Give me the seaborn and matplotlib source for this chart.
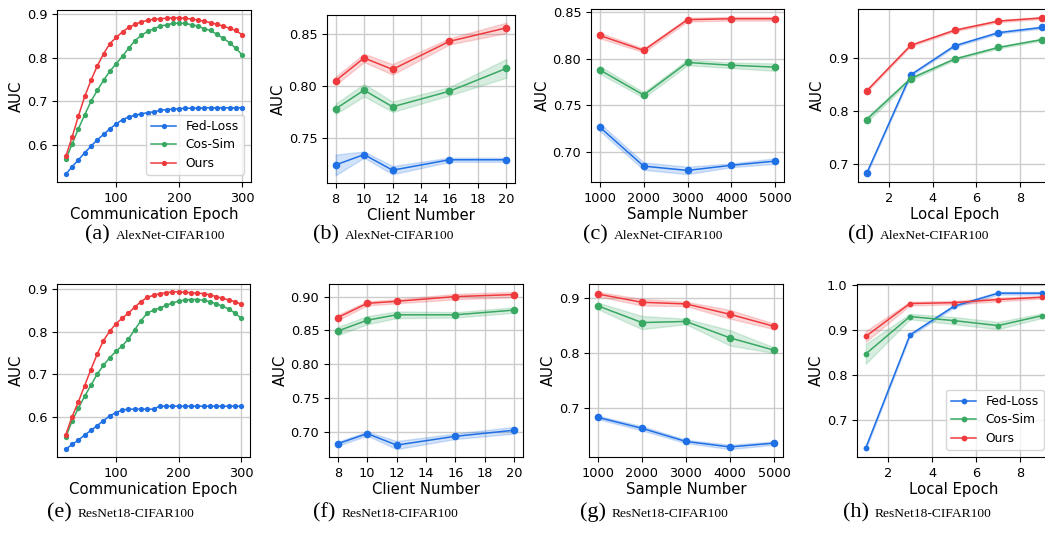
import numpy as np
import pandas as pd
import matplotlib
matplotlib.use('Agg')
import matplotlib.pyplot as plt
import seaborn as sns
from matplotlib.ticker import MultipleLocator, FormatStrFormatter

METHODS = ['Fed-Loss', 'Cos-Sim', 'Ours']
COLORS = {'Fed-Loss': '#1f6fe5', 'Cos-Sim': '#38a862', 'Ours': '#ef3a3d'}

# communication epoch panels (a) and (e)
epochs = [20, 30, 40, 50, 60, 70, 80, 90, 100, 110, 120, 130, 140, 150, 160,
          170, 180, 190, 200, 210, 220, 230, 240, 250, 260, 270, 280, 290, 300]
a_fed = [0.533, 0.550, 0.566, 0.582, 0.597, 0.612, 0.624, 0.637, 0.648, 0.658, 0.664, 0.668, 0.671, 0.674, 0.676,
         0.679, 0.681, 0.682, 0.683, 0.684, 0.684, 0.684, 0.685, 0.685, 0.685, 0.685, 0.685, 0.685, 0.685]
a_cos = [0.567, 0.602, 0.637, 0.669, 0.700, 0.725, 0.748, 0.769, 0.786, 0.803, 0.822, 0.839, 0.851, 0.860, 0.866,
         0.872, 0.875, 0.878, 0.879, 0.878, 0.875, 0.872, 0.866, 0.862, 0.853, 0.844, 0.834, 0.821, 0.806]
a_ours = [0.574, 0.618, 0.666, 0.711, 0.748, 0.781, 0.809, 0.832, 0.846, 0.859, 0.869, 0.876, 0.882, 0.885, 0.888,
          0.889, 0.890, 0.891, 0.891, 0.890, 0.888, 0.886, 0.883, 0.880, 0.876, 0.872, 0.867, 0.862, 0.852]
e_fed = [0.524, 0.535, 0.545, 0.557, 0.568, 0.579, 0.591, 0.602, 0.610, 0.616, 0.618, 0.618, 0.618, 0.618, 0.618,
         0.625, 0.625, 0.625, 0.625, 0.625, 0.625, 0.625, 0.625, 0.625, 0.625, 0.625, 0.625, 0.625, 0.625]
e_cos = [0.552, 0.590, 0.620, 0.648, 0.674, 0.700, 0.721, 0.739, 0.754, 0.767, 0.783, 0.805, 0.826, 0.844, 0.851,
         0.856, 0.862, 0.868, 0.872, 0.875, 0.876, 0.876, 0.874, 0.871, 0.866, 0.860, 0.854, 0.844, 0.832]
e_ours = [0.558, 0.600, 0.635, 0.673, 0.711, 0.747, 0.779, 0.801, 0.819, 0.832, 0.844, 0.858, 0.871, 0.881, 0.886,
          0.890, 0.892, 0.894, 0.894, 0.893, 0.892, 0.891, 0.890, 0.887, 0.883, 0.879, 0.875, 0.871, 0.865]

# client number panels (b) and (f)
clients = [8, 10, 12, 16, 20]
b_fed = [0.724, 0.734, 0.719, 0.729, 0.729]
b_cos = [0.778, 0.796, 0.780, 0.795, 0.817]
b_ours = [0.805, 0.827, 0.816, 0.843, 0.856]
b_fed_err = [0.010, 0.003, 0.004, 0.002, 0.002]
b_cos_err = [0.005, 0.006, 0.005, 0.004, 0.009]
b_ours_err = [0.004, 0.004, 0.005, 0.003, 0.005]
f_fed = [0.682, 0.697, 0.680, 0.693, 0.702]
f_cos = [0.849, 0.865, 0.873, 0.873, 0.880]
f_ours = [0.869, 0.890, 0.893, 0.900, 0.903]
f_fed_err = [0.003, 0.003, 0.006, 0.004, 0.005]
f_cos_err = [0.006, 0.006, 0.005, 0.004, 0.004]
f_ours_err = [0.004, 0.003, 0.003, 0.004, 0.004]

# sample number panels (c) and (g)
samples = [1000, 2000, 3000, 4000, 5000]
c_fed = [0.7265, 0.6846, 0.680, 0.6855, 0.690]
c_cos = [0.788, 0.761, 0.796, 0.793, 0.791]
c_ours = [0.825, 0.809, 0.842, 0.843, 0.843]
c_fed_err = [0.004, 0.004, 0.004, 0.002, 0.003]
c_cos_err = [0.004, 0.003, 0.003, 0.003, 0.004]
c_ours_err = [0.003, 0.002, 0.002, 0.002, 0.002]
g_fed = [0.683, 0.663, 0.639, 0.629, 0.636]
g_cos = [0.8865, 0.856, 0.858, 0.828, 0.8055]
g_ours = [0.908, 0.893, 0.890, 0.871, 0.849]
g_fed_err = [0.003, 0.004, 0.003, 0.004, 0.003]
g_cos_err = [0.006, 0.012, 0.005, 0.014, 0.005]
g_ours_err = [0.004, 0.006, 0.004, 0.008, 0.005]

# local epoch panels (d) and (h)
local_epochs = [1, 3, 5, 7, 9]
d_fed = [0.682, 0.868, 0.923, 0.948, 0.958]
d_cos = [0.7835, 0.861, 0.898, 0.920, 0.935]
d_ours = [0.838, 0.924, 0.9525, 0.970, 0.976]
d_fed_err = [0.002, 0.002, 0.002, 0.002, 0.002]
d_cos_err = [0.005, 0.003, 0.002, 0.002, 0.002]
d_ours_err = [0.002, 0.002, 0.002, 0.002, 0.002]
h_fed = [0.638, 0.889, 0.953, 0.982, 0.982]
h_cos = [0.847, 0.930, 0.921, 0.910, 0.932]
h_ours = [0.886, 0.959, 0.961, 0.968, 0.973]
h_fed_err = [0.003, 0.003, 0.003, 0.003, 0.003]
h_cos_err = [0.022, 0.006, 0.008, 0.008, 0.005]
h_ours_err = [0.012, 0.004, 0.004, 0.004, 0.003]


def make_df(x, means, errs=None):
    frames = []
    for i, m in enumerate(METHODS):
        mean = np.asarray(means[i])
        if errs is None:
            frames.append(pd.DataFrame({'x': x, 'AUC': mean, 'method': m}))
        else:
            e = np.asarray(errs[i])
            frames.append(pd.DataFrame({'x': list(x) * 2, 'AUC': np.r_[mean - e, mean + e], 'method': m}))
    return pd.concat(frames, ignore_index=True)


W, H = 1045, 535
fig = plt.figure(figsize=(W / 100, H / 100), dpi=100)


def add_ax(left, right, top, bottom):
    return fig.add_axes([left / W, 1 - bottom / H, (right - left) / W, (bottom - top) / H])


def draw(ax, df, bands, ms, xlabel, xstep, ystep, yfmt, legend=False):
    sns.lineplot(data=df, x='x', y='AUC', hue='method', hue_order=METHODS, palette=COLORS,
                 marker='o', markersize=ms, markeredgewidth=0, linewidth=1.1,
                 errorbar=('pi', 100) if bands else None, legend=legend, ax=ax)
    ax.set_xlabel(xlabel, fontsize=10.7, labelpad=1.5)
    ax.set_ylabel('AUC', fontsize=10.7, labelpad=2)
    ax.xaxis.set_major_locator(MultipleLocator(xstep))
    ax.yaxis.set_major_locator(MultipleLocator(ystep))
    ax.yaxis.set_major_formatter(FormatStrFormatter(yfmt))
    ax.tick_params(labelsize=9.3)
    ax.grid(True, color='#cccccc', linewidth=1)
    ax.set_axisbelow(True)
    for s in ax.spines.values():
        s.set_color('black')
        s.set_linewidth(0.8)
    if legend:
        sns.move_legend(ax, 'lower right', title=None, fontsize=8.8, frameon=True,
                        labelspacing=0.45, borderaxespad=0.6)


ax_a = add_ax(57, 251, 10, 182)
draw(ax_a, make_df(epochs, [a_fed, a_cos, a_ours]), False, 3.8,
     'Communication Epoch', 100, 0.1, '%.1f', legend=True)
ax_b = add_ax(327, 515, 15, 183)
draw(ax_b, make_df(clients, [b_fed, b_cos, b_ours], [b_fed_err, b_cos_err, b_ours_err]), True, 5.5,
     'Client Number', 2, 0.05, '%.2f')
ax_c = add_ax(591, 784, 9, 182)
draw(ax_c, make_df(samples, [c_fed, c_cos, c_ours], [c_fed_err, c_cos_err, c_ours_err]), True, 5.5,
     'Sample Number', 1000, 0.05, '%.2f')
ax_d = add_ax(858, 1051, 9, 182)
draw(ax_d, make_df(local_epochs, [d_fed, d_cos, d_ours], [d_fed_err, d_cos_err, d_ours_err]), True, 5.5,
     'Local Epoch', 2, 0.1, '%.1f')

ax_e = add_ax(57, 250, 284, 457)
draw(ax_e, make_df(epochs, [e_fed, e_cos, e_ours]), False, 3.8,
     'Communication Epoch', 100, 0.1, '%.1f')
ax_f = add_ax(329, 523, 284, 457)
draw(ax_f, make_df(clients, [f_fed, f_cos, f_ours], [f_fed_err, f_cos_err, f_ours_err]), True, 5.5,
     'Client Number', 2, 0.05, '%.2f')
ax_g = add_ax(589, 783, 284, 457)
draw(ax_g, make_df(samples, [g_fed, g_cos, g_ours], [g_fed_err, g_cos_err, g_ours_err]), True, 5.5,
     'Sample Number', 1000, 0.1, '%.1f')
ax_h = add_ax(857, 1051, 284, 457)
draw(ax_h, make_df(local_epochs, [h_fed, h_cos, h_ours], [h_fed_err, h_cos_err, h_ours_err]), True, 4.2,
     'Local Epoch', 2, 0.1, '%.1f', legend=True)

# captions under each panel
captions = [('(a)', 'AlexNet-CIFAR100', 85, 239), ('(b)', 'AlexNet-CIFAR100', 313, 239),
            ('(c)', 'AlexNet-CIFAR100', 583, 239), ('(d)', 'AlexNet-CIFAR100', 848, 239),
            ('(e)', 'ResNet18-CIFAR100', 47, 517), ('(f)', 'ResNet18-CIFAR100', 313, 517),
            ('(g)', 'ResNet18-CIFAR100', 580, 517), ('(h)', 'ResNet18-CIFAR100', 843, 517)]
serif = ['Liberation Serif', 'DejaVu Serif']
label_texts = []
for tag, name, x0, y0 in captions:
    t = fig.text(x0 / W, 1 - y0 / H, tag, family=serif, fontsize=16, va='baseline', ha='left')
    label_texts.append((t, name, y0))
fig.canvas.draw()
r = fig.canvas.get_renderer()
for t, name, y0 in label_texts:
    bb = t.get_window_extent(renderer=r)
    fig.text((bb.x1 + 6) / W, 1 - y0 / H, name, family=serif, fontsize=9.7, va='baseline', ha='left')

fig.savefig('out.png', dpi=100)
